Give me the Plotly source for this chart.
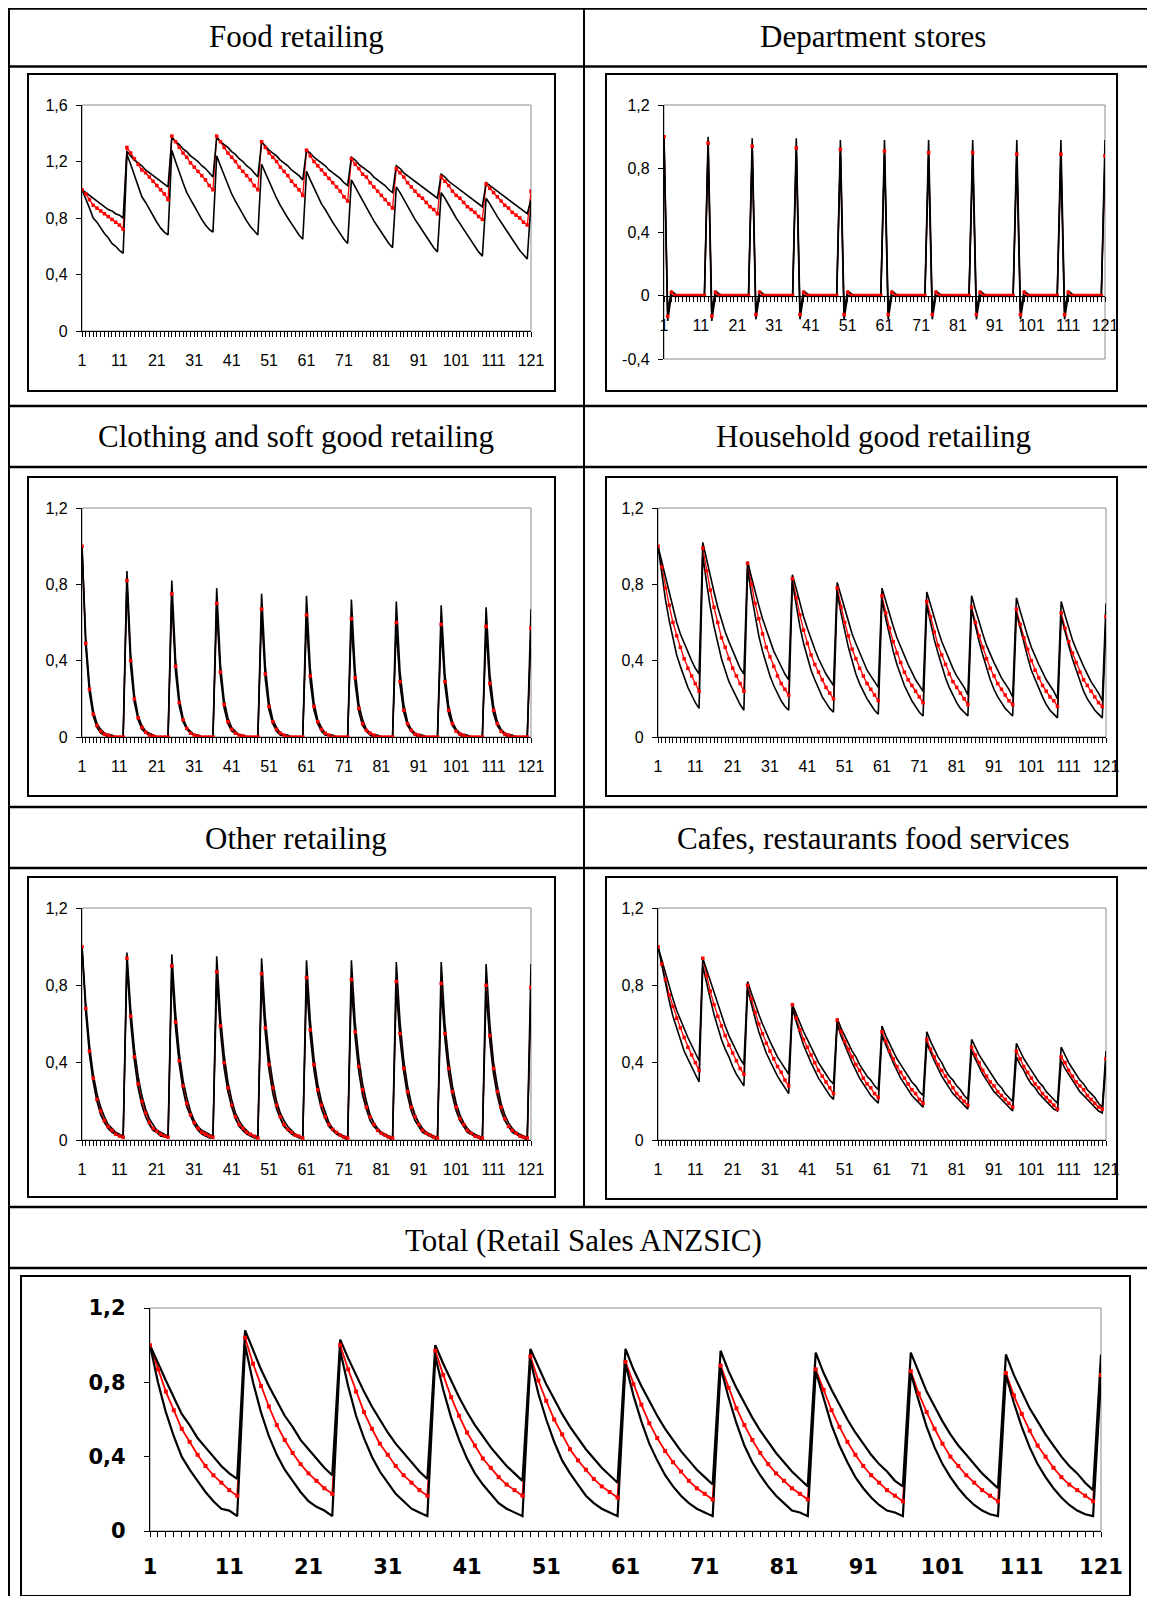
import plotly.graph_objects as go

# ---------------- data ----------------
PERIODS = list(range(1, 122))
X_TICKS = [1, 11, 21, 31, 41, 51, 61, 71, 81, 91, 101, 111, 121]
X_LABELS = ["1", "11", "21", "31", "41", "51", "61", "71", "81", "91", "101", "111", "121"]
Y_TICKS_A = [0, 0.4, 0.8, 1.2, 1.6]
Y_LABELS_A = ["0", "0,4", "0,8", "1,2", "1,6"]
Y_TICKS_B = [-0.4, 0, 0.4, 0.8, 1.2]
Y_LABELS_B = ["-0,4", "0", "0,4", "0,8", "1,2"]
Y_TICKS_C = [0, 0.4, 0.8, 1.2]
Y_LABELS_C = ["0", "0,4", "0,8", "1,2"]

TITLES = ["Food retailing", "Department stores", "Clothing and soft good retailing",
          "Household good retailing", "Other retailing", "Cafes, restaurants food services",
          "Total (Retail Sales ANZSIC)"]

FOOD_IRF = [
    1.00, 0.97, 0.93, 0.89, 0.87, 0.85, 0.83, 0.81, 0.79, 0.77, 0.75, 0.72,
    1.30, 1.26, 1.22, 1.18, 1.14, 1.12, 1.09, 1.06, 1.03, 1.00, 0.97, 0.93,
    1.38, 1.34, 1.30, 1.26, 1.23, 1.19, 1.16, 1.13, 1.10, 1.07, 1.03, 1.00,
    1.38, 1.34, 1.30, 1.26, 1.23, 1.20, 1.16, 1.13, 1.10, 1.07, 1.03, 1.00,
    1.34, 1.30, 1.26, 1.23, 1.20, 1.16, 1.13, 1.10, 1.06, 1.03, 1.00, 0.96,
    1.28, 1.24, 1.20, 1.17, 1.14, 1.11, 1.08, 1.05, 1.02, 0.99, 0.95, 0.92,
    1.22, 1.18, 1.15, 1.11, 1.09, 1.05, 1.02, 0.99, 0.96, 0.93, 0.90, 0.87,
    1.15, 1.12, 1.09, 1.05, 1.02, 0.99, 0.96, 0.94, 0.91, 0.88, 0.86, 0.83,
    1.09, 1.06, 1.03, 0.99, 0.96, 0.94, 0.91, 0.88, 0.86, 0.84, 0.81, 0.79,
    1.04, 1.01, 0.98, 0.95, 0.92, 0.89, 0.87, 0.84, 0.82, 0.80, 0.77, 0.75,
    0.99,
]
FOOD_UP = [
    1.00, 0.98, 0.96, 0.94, 0.92, 0.90, 0.88, 0.86, 0.85, 0.83, 0.82, 0.80,
    1.27, 1.24, 1.21, 1.19, 1.17, 1.14, 1.12, 1.10, 1.08, 1.06, 1.04, 1.02,
    1.37, 1.34, 1.32, 1.29, 1.27, 1.24, 1.22, 1.20, 1.17, 1.15, 1.12, 1.09,
    1.37, 1.34, 1.32, 1.30, 1.27, 1.25, 1.22, 1.20, 1.17, 1.15, 1.12, 1.09,
    1.34, 1.31, 1.28, 1.26, 1.24, 1.21, 1.19, 1.17, 1.14, 1.12, 1.10, 1.07,
    1.28, 1.26, 1.23, 1.21, 1.19, 1.17, 1.14, 1.12, 1.10, 1.08, 1.05, 1.03,
    1.23, 1.21, 1.18, 1.16, 1.14, 1.12, 1.09, 1.07, 1.05, 1.03, 1.00, 0.98,
    1.17, 1.15, 1.12, 1.10, 1.08, 1.06, 1.04, 1.02, 1.00, 0.98, 0.96, 0.94,
    1.11, 1.09, 1.06, 1.04, 1.02, 1.00, 0.98, 0.96, 0.94, 0.92, 0.90, 0.88,
    1.05, 1.03, 1.01, 0.99, 0.97, 0.95, 0.93, 0.91, 0.89, 0.87, 0.85, 0.83,
    0.93,
]
FOOD_LO = [
    1.00, 0.94, 0.87, 0.80, 0.77, 0.73, 0.69, 0.66, 0.62, 0.60, 0.57, 0.55,
    1.25, 1.18, 1.10, 1.03, 0.95, 0.91, 0.86, 0.81, 0.77, 0.73, 0.70, 0.68,
    1.28, 1.20, 1.12, 1.05, 0.98, 0.93, 0.88, 0.83, 0.79, 0.75, 0.72, 0.70,
    1.24, 1.17, 1.10, 1.03, 0.97, 0.92, 0.87, 0.82, 0.78, 0.74, 0.71, 0.68,
    1.18, 1.12, 1.05, 0.99, 0.94, 0.89, 0.84, 0.80, 0.76, 0.72, 0.68, 0.65,
    1.13, 1.07, 1.01, 0.96, 0.90, 0.86, 0.81, 0.77, 0.73, 0.69, 0.65, 0.62,
    1.07, 1.02, 0.97, 0.92, 0.87, 0.82, 0.78, 0.74, 0.70, 0.66, 0.62, 0.59,
    1.02, 0.98, 0.93, 0.88, 0.83, 0.79, 0.75, 0.71, 0.67, 0.63, 0.59, 0.56,
    0.98, 0.94, 0.89, 0.84, 0.80, 0.76, 0.72, 0.68, 0.64, 0.60, 0.56, 0.53,
    0.94, 0.90, 0.85, 0.81, 0.77, 0.73, 0.69, 0.65, 0.61, 0.57, 0.54, 0.51,
    0.91,
]

DEPT_IRF = [
    1.00, -0.13, 0.02, 0.00, 0.00, 0.00, 0.00, 0.00, 0.00, 0.00, 0.00, 0.00,
    0.96, -0.13, 0.02, 0.00, 0.00, 0.00, 0.00, 0.00, 0.00, 0.00, 0.00, 0.00,
    0.94, -0.12, 0.02, 0.00, 0.00, 0.00, 0.00, 0.00, 0.00, 0.00, 0.00, 0.00,
    0.93, -0.12, 0.02, 0.00, 0.00, 0.00, 0.00, 0.00, 0.00, 0.00, 0.00, 0.00,
    0.92, -0.12, 0.02, 0.00, 0.00, 0.00, 0.00, 0.00, 0.00, 0.00, 0.00, 0.00,
    0.91, -0.12, 0.02, 0.00, 0.00, 0.00, 0.00, 0.00, 0.00, 0.00, 0.00, 0.00,
    0.90, -0.12, 0.02, 0.00, 0.00, 0.00, 0.00, 0.00, 0.00, 0.00, 0.00, 0.00,
    0.90, -0.12, 0.02, 0.00, 0.00, 0.00, 0.00, 0.00, 0.00, 0.00, 0.00, 0.00,
    0.89, -0.12, 0.02, 0.00, 0.00, 0.00, 0.00, 0.00, 0.00, 0.00, 0.00, 0.00,
    0.89, -0.12, 0.02, 0.00, 0.00, 0.00, 0.00, 0.00, 0.00, 0.00, 0.00, 0.00,
    0.88,
]
DEPT_UP = [
    1.00, -0.10, 0.03, 0.01, 0.00, 0.00, 0.00, 0.00, 0.00, 0.00, 0.00, 0.00,
    1.00, -0.10, 0.03, 0.01, 0.00, 0.00, 0.00, 0.00, 0.00, 0.00, 0.00, 0.00,
    0.99, -0.10, 0.03, 0.01, 0.00, 0.00, 0.00, 0.00, 0.00, 0.00, 0.00, 0.00,
    0.99, -0.10, 0.03, 0.01, 0.00, 0.00, 0.00, 0.00, 0.00, 0.00, 0.00, 0.00,
    0.98, -0.10, 0.03, 0.01, 0.00, 0.00, 0.00, 0.00, 0.00, 0.00, 0.00, 0.00,
    0.98, -0.10, 0.03, 0.01, 0.00, 0.00, 0.00, 0.00, 0.00, 0.00, 0.00, 0.00,
    0.98, -0.10, 0.03, 0.01, 0.00, 0.00, 0.00, 0.00, 0.00, 0.00, 0.00, 0.00,
    0.98, -0.10, 0.03, 0.01, 0.00, 0.00, 0.00, 0.00, 0.00, 0.00, 0.00, 0.00,
    0.98, -0.10, 0.03, 0.01, 0.00, 0.00, 0.00, 0.00, 0.00, 0.00, 0.00, 0.00,
    0.98, -0.10, 0.03, 0.01, 0.00, 0.00, 0.00, 0.00, 0.00, 0.00, 0.00, 0.00,
    0.98,
]
DEPT_LO = [
    1.00, -0.16, 0.00, 0.00, 0.00, 0.00, 0.00, 0.00, 0.00, 0.00, 0.00, 0.00,
    0.93, -0.16, 0.00, 0.00, 0.00, 0.00, 0.00, 0.00, 0.00, 0.00, 0.00, 0.00,
    0.91, -0.15, 0.00, 0.00, 0.00, 0.00, 0.00, 0.00, 0.00, 0.00, 0.00, 0.00,
    0.90, -0.15, 0.00, 0.00, 0.00, 0.00, 0.00, 0.00, 0.00, 0.00, 0.00, 0.00,
    0.89, -0.15, 0.00, 0.00, 0.00, 0.00, 0.00, 0.00, 0.00, 0.00, 0.00, 0.00,
    0.88, -0.15, 0.00, 0.00, 0.00, 0.00, 0.00, 0.00, 0.00, 0.00, 0.00, 0.00,
    0.87, -0.15, 0.00, 0.00, 0.00, 0.00, 0.00, 0.00, 0.00, 0.00, 0.00, 0.00,
    0.87, -0.15, 0.00, 0.00, 0.00, 0.00, 0.00, 0.00, 0.00, 0.00, 0.00, 0.00,
    0.86, -0.15, 0.00, 0.00, 0.00, 0.00, 0.00, 0.00, 0.00, 0.00, 0.00, 0.00,
    0.86, -0.15, 0.00, 0.00, 0.00, 0.00, 0.00, 0.00, 0.00, 0.00, 0.00, 0.00,
    0.85,
]

CLOTH_IRF = [
    1.00, 0.49, 0.25, 0.12, 0.06, 0.03, 0.015, 0.01, 0.00, 0.00, 0.00, 0.00,
    0.82, 0.40, 0.20, 0.10, 0.05, 0.025, 0.01, 0.005, 0.00, 0.00, 0.00, 0.00,
    0.75, 0.37, 0.18, 0.09, 0.045, 0.02, 0.01, 0.005, 0.00, 0.00, 0.00, 0.00,
    0.70, 0.34, 0.17, 0.08, 0.04, 0.02, 0.01, 0.005, 0.00, 0.00, 0.00, 0.00,
    0.67, 0.33, 0.16, 0.08, 0.04, 0.02, 0.01, 0.00, 0.00, 0.00, 0.00, 0.00,
    0.64, 0.32, 0.16, 0.08, 0.04, 0.02, 0.01, 0.00, 0.00, 0.00, 0.00, 0.00,
    0.62, 0.31, 0.15, 0.07, 0.035, 0.02, 0.01, 0.00, 0.00, 0.00, 0.00, 0.00,
    0.60, 0.29, 0.14, 0.07, 0.035, 0.015, 0.01, 0.00, 0.00, 0.00, 0.00, 0.00,
    0.59, 0.29, 0.14, 0.07, 0.03, 0.015, 0.01, 0.00, 0.00, 0.00, 0.00, 0.00,
    0.58, 0.28, 0.14, 0.07, 0.03, 0.015, 0.01, 0.00, 0.00, 0.00, 0.00, 0.00,
    0.57,
]
CLOTH_UP = [
    1.00, 0.52, 0.27, 0.14, 0.07, 0.04, 0.02, 0.01, 0.01, 0.00, 0.00, 0.00,
    0.87, 0.44, 0.22, 0.11, 0.06, 0.03, 0.02, 0.01, 0.00, 0.00, 0.00, 0.00,
    0.82, 0.41, 0.20, 0.10, 0.05, 0.03, 0.01, 0.01, 0.00, 0.00, 0.00, 0.00,
    0.78, 0.38, 0.19, 0.10, 0.05, 0.03, 0.01, 0.01, 0.00, 0.00, 0.00, 0.00,
    0.75, 0.37, 0.18, 0.09, 0.05, 0.02, 0.01, 0.01, 0.00, 0.00, 0.00, 0.00,
    0.74, 0.36, 0.18, 0.09, 0.05, 0.02, 0.01, 0.01, 0.00, 0.00, 0.00, 0.00,
    0.72, 0.35, 0.17, 0.09, 0.04, 0.02, 0.01, 0.01, 0.00, 0.00, 0.00, 0.00,
    0.71, 0.34, 0.17, 0.08, 0.04, 0.02, 0.01, 0.01, 0.00, 0.00, 0.00, 0.00,
    0.69, 0.33, 0.16, 0.08, 0.04, 0.02, 0.01, 0.01, 0.00, 0.00, 0.00, 0.00,
    0.68, 0.33, 0.16, 0.08, 0.04, 0.02, 0.01, 0.01, 0.00, 0.00, 0.00, 0.00,
    0.67,
]
CLOTH_LO = [
    1.00, 0.47, 0.23, 0.11, 0.05, 0.02, 0.01, 0.00, 0.00, 0.00, 0.00, 0.00,
    0.80, 0.37, 0.18, 0.09, 0.04, 0.02, 0.01, 0.00, 0.00, 0.00, 0.00, 0.00,
    0.73, 0.34, 0.16, 0.08, 0.04, 0.02, 0.01, 0.00, 0.00, 0.00, 0.00, 0.00,
    0.68, 0.32, 0.15, 0.07, 0.03, 0.02, 0.01, 0.00, 0.00, 0.00, 0.00, 0.00,
    0.65, 0.30, 0.14, 0.07, 0.03, 0.01, 0.01, 0.00, 0.00, 0.00, 0.00, 0.00,
    0.62, 0.29, 0.14, 0.07, 0.03, 0.01, 0.01, 0.00, 0.00, 0.00, 0.00, 0.00,
    0.60, 0.28, 0.13, 0.06, 0.03, 0.01, 0.00, 0.00, 0.00, 0.00, 0.00, 0.00,
    0.58, 0.27, 0.13, 0.06, 0.03, 0.01, 0.00, 0.00, 0.00, 0.00, 0.00, 0.00,
    0.57, 0.27, 0.12, 0.06, 0.03, 0.01, 0.00, 0.00, 0.00, 0.00, 0.00, 0.00,
    0.56, 0.26, 0.12, 0.06, 0.03, 0.01, 0.00, 0.00, 0.00, 0.00, 0.00, 0.00,
    0.55,
]

HOUSE_IRF = [
    1.00, 0.89, 0.78, 0.69, 0.60, 0.53, 0.47, 0.41, 0.36, 0.32, 0.28, 0.24,
    0.99, 0.87, 0.77, 0.68, 0.60, 0.52, 0.47, 0.41, 0.36, 0.32, 0.28, 0.24,
    0.91, 0.80, 0.70, 0.62, 0.54, 0.47, 0.42, 0.37, 0.32, 0.28, 0.25, 0.22,
    0.83, 0.73, 0.64, 0.56, 0.49, 0.43, 0.38, 0.34, 0.30, 0.26, 0.23, 0.20,
    0.78, 0.68, 0.60, 0.53, 0.46, 0.41, 0.36, 0.32, 0.28, 0.25, 0.22, 0.19,
    0.74, 0.65, 0.57, 0.50, 0.44, 0.39, 0.34, 0.30, 0.27, 0.24, 0.21, 0.18,
    0.71, 0.63, 0.55, 0.48, 0.43, 0.38, 0.33, 0.29, 0.26, 0.23, 0.20, 0.17,
    0.68, 0.60, 0.53, 0.47, 0.41, 0.36, 0.32, 0.28, 0.25, 0.22, 0.19, 0.17,
    0.67, 0.59, 0.52, 0.46, 0.40, 0.35, 0.31, 0.27, 0.24, 0.21, 0.19, 0.16,
    0.65, 0.57, 0.50, 0.44, 0.39, 0.34, 0.30, 0.27, 0.24, 0.21, 0.18, 0.16,
    0.63,
]
HOUSE_UP = [
    1.00, 0.92, 0.83, 0.75, 0.67, 0.60, 0.54, 0.49, 0.44, 0.40, 0.36, 0.33,
    1.02, 0.93, 0.84, 0.76, 0.68, 0.61, 0.55, 0.50, 0.45, 0.40, 0.36, 0.33,
    0.92, 0.84, 0.76, 0.69, 0.62, 0.56, 0.50, 0.45, 0.41, 0.37, 0.33, 0.30,
    0.85, 0.78, 0.70, 0.63, 0.57, 0.51, 0.46, 0.41, 0.37, 0.33, 0.30, 0.27,
    0.81, 0.74, 0.67, 0.60, 0.54, 0.49, 0.44, 0.39, 0.35, 0.32, 0.29, 0.26,
    0.78, 0.71, 0.64, 0.58, 0.52, 0.47, 0.42, 0.38, 0.34, 0.30, 0.27, 0.24,
    0.76, 0.69, 0.62, 0.56, 0.50, 0.45, 0.40, 0.36, 0.32, 0.29, 0.26, 0.22,
    0.74, 0.67, 0.60, 0.54, 0.48, 0.43, 0.39, 0.35, 0.31, 0.28, 0.25, 0.21,
    0.73, 0.66, 0.59, 0.53, 0.47, 0.42, 0.38, 0.34, 0.30, 0.27, 0.24, 0.20,
    0.71, 0.64, 0.57, 0.51, 0.46, 0.41, 0.37, 0.33, 0.29, 0.26, 0.23, 0.19,
    0.70,
]
HOUSE_LO = [
    1.00, 0.85, 0.72, 0.61, 0.51, 0.43, 0.37, 0.31, 0.26, 0.22, 0.18, 0.15,
    0.95, 0.81, 0.68, 0.58, 0.49, 0.41, 0.35, 0.29, 0.25, 0.21, 0.17, 0.14,
    0.88, 0.75, 0.63, 0.53, 0.45, 0.38, 0.32, 0.27, 0.23, 0.19, 0.16, 0.14,
    0.81, 0.69, 0.58, 0.49, 0.42, 0.35, 0.30, 0.25, 0.21, 0.18, 0.15, 0.13,
    0.76, 0.65, 0.55, 0.47, 0.40, 0.33, 0.28, 0.24, 0.20, 0.17, 0.14, 0.12,
    0.72, 0.62, 0.53, 0.45, 0.38, 0.32, 0.27, 0.23, 0.19, 0.16, 0.13, 0.11,
    0.69, 0.60, 0.51, 0.44, 0.37, 0.31, 0.26, 0.22, 0.18, 0.15, 0.13, 0.11,
    0.67, 0.58, 0.50, 0.43, 0.36, 0.30, 0.25, 0.21, 0.18, 0.15, 0.13, 0.11,
    0.65, 0.57, 0.49, 0.42, 0.35, 0.30, 0.25, 0.21, 0.17, 0.14, 0.12, 0.10,
    0.63, 0.55, 0.48, 0.41, 0.35, 0.29, 0.24, 0.20, 0.17, 0.14, 0.12, 0.10,
    0.61,
]

OTHER_IRF = [
    1.00, 0.68, 0.46, 0.32, 0.21, 0.15, 0.10, 0.07, 0.05, 0.03, 0.02, 0.015,
    0.94, 0.64, 0.43, 0.29, 0.20, 0.14, 0.09, 0.06, 0.045, 0.03, 0.02, 0.015,
    0.90, 0.61, 0.41, 0.28, 0.19, 0.13, 0.09, 0.06, 0.04, 0.03, 0.02, 0.015,
    0.87, 0.59, 0.40, 0.27, 0.18, 0.12, 0.08, 0.06, 0.04, 0.03, 0.02, 0.01,
    0.86, 0.58, 0.39, 0.27, 0.18, 0.12, 0.08, 0.055, 0.04, 0.025, 0.02, 0.01,
    0.84, 0.57, 0.39, 0.26, 0.18, 0.12, 0.08, 0.055, 0.04, 0.025, 0.015, 0.01,
    0.83, 0.56, 0.38, 0.26, 0.17, 0.12, 0.08, 0.05, 0.035, 0.025, 0.015, 0.01,
    0.82, 0.55, 0.37, 0.25, 0.17, 0.12, 0.08, 0.05, 0.035, 0.025, 0.015, 0.01,
    0.81, 0.55, 0.37, 0.25, 0.17, 0.11, 0.08, 0.05, 0.035, 0.02, 0.015, 0.01,
    0.80, 0.54, 0.37, 0.25, 0.17, 0.11, 0.07, 0.05, 0.035, 0.02, 0.015, 0.01,
    0.79,
]
OTHER_UP = [
    1.00, 0.71, 0.49, 0.34, 0.24, 0.17, 0.12, 0.08, 0.06, 0.04, 0.03, 0.02,
    0.97, 0.68, 0.47, 0.33, 0.23, 0.16, 0.11, 0.08, 0.05, 0.04, 0.03, 0.02,
    0.96, 0.66, 0.45, 0.31, 0.22, 0.15, 0.10, 0.07, 0.05, 0.04, 0.03, 0.02,
    0.95, 0.64, 0.44, 0.30, 0.21, 0.14, 0.10, 0.07, 0.05, 0.03, 0.02, 0.02,
    0.94, 0.63, 0.43, 0.30, 0.20, 0.14, 0.10, 0.07, 0.05, 0.03, 0.02, 0.01,
    0.93, 0.62, 0.42, 0.29, 0.20, 0.14, 0.09, 0.06, 0.04, 0.03, 0.02, 0.01,
    0.93, 0.61, 0.42, 0.29, 0.20, 0.13, 0.09, 0.06, 0.04, 0.03, 0.02, 0.01,
    0.92, 0.61, 0.41, 0.28, 0.19, 0.13, 0.09, 0.06, 0.04, 0.03, 0.02, 0.01,
    0.92, 0.60, 0.41, 0.28, 0.19, 0.13, 0.09, 0.06, 0.04, 0.03, 0.02, 0.01,
    0.91, 0.60, 0.40, 0.28, 0.19, 0.13, 0.09, 0.06, 0.04, 0.03, 0.02, 0.01,
    0.91,
]
OTHER_LO = [
    1.00, 0.66, 0.44, 0.30, 0.20, 0.13, 0.09, 0.06, 0.04, 0.03, 0.02, 0.01,
    0.91, 0.61, 0.41, 0.27, 0.18, 0.12, 0.08, 0.05, 0.04, 0.02, 0.02, 0.01,
    0.87, 0.58, 0.39, 0.26, 0.17, 0.12, 0.08, 0.05, 0.03, 0.02, 0.01, 0.01,
    0.84, 0.56, 0.37, 0.25, 0.17, 0.11, 0.07, 0.05, 0.03, 0.02, 0.01, 0.01,
    0.82, 0.55, 0.36, 0.24, 0.16, 0.11, 0.07, 0.05, 0.03, 0.02, 0.01, 0.01,
    0.81, 0.54, 0.36, 0.24, 0.16, 0.11, 0.07, 0.05, 0.03, 0.02, 0.01, 0.00,
    0.80, 0.53, 0.35, 0.23, 0.16, 0.10, 0.07, 0.05, 0.03, 0.02, 0.01, 0.00,
    0.79, 0.52, 0.35, 0.23, 0.15, 0.10, 0.07, 0.04, 0.03, 0.02, 0.01, 0.00,
    0.78, 0.52, 0.34, 0.23, 0.15, 0.10, 0.07, 0.04, 0.03, 0.02, 0.01, 0.00,
    0.77, 0.51, 0.34, 0.23, 0.15, 0.10, 0.07, 0.04, 0.03, 0.02, 0.01, 0.00,
    0.76,
]

CAFE_IRF = [
    1.00, 0.91, 0.83, 0.75, 0.69, 0.63, 0.58, 0.53, 0.48, 0.44, 0.40, 0.36,
    0.94, 0.85, 0.77, 0.70, 0.64, 0.59, 0.54, 0.49, 0.45, 0.41, 0.37, 0.34,
    0.80, 0.73, 0.66, 0.60, 0.55, 0.50, 0.46, 0.42, 0.38, 0.35, 0.31, 0.28,
    0.70, 0.63, 0.57, 0.52, 0.48, 0.44, 0.40, 0.36, 0.33, 0.30, 0.27, 0.24,
    0.62, 0.56, 0.51, 0.47, 0.43, 0.39, 0.36, 0.32, 0.29, 0.27, 0.24, 0.22,
    0.56, 0.51, 0.46, 0.42, 0.38, 0.35, 0.32, 0.29, 0.26, 0.24, 0.21, 0.19,
    0.52, 0.47, 0.43, 0.39, 0.36, 0.33, 0.30, 0.27, 0.24, 0.22, 0.20, 0.18,
    0.48, 0.44, 0.40, 0.36, 0.33, 0.30, 0.28, 0.25, 0.23, 0.21, 0.19, 0.17,
    0.46, 0.42, 0.38, 0.35, 0.32, 0.29, 0.27, 0.24, 0.22, 0.20, 0.18, 0.16,
    0.43, 0.40, 0.36, 0.33, 0.30, 0.28, 0.26, 0.23, 0.21, 0.19, 0.17, 0.16,
    0.42,
]
CAFE_UP = [
    1.00, 0.93, 0.86, 0.79, 0.73, 0.67, 0.62, 0.57, 0.53, 0.49, 0.45, 0.41,
    0.94, 0.88, 0.82, 0.76, 0.70, 0.64, 0.59, 0.54, 0.50, 0.46, 0.42, 0.39,
    0.82, 0.76, 0.70, 0.65, 0.60, 0.55, 0.51, 0.47, 0.43, 0.40, 0.37, 0.34,
    0.70, 0.65, 0.60, 0.56, 0.52, 0.48, 0.44, 0.40, 0.37, 0.34, 0.31, 0.29,
    0.63, 0.58, 0.54, 0.50, 0.46, 0.43, 0.39, 0.36, 0.33, 0.31, 0.28, 0.26,
    0.59, 0.54, 0.50, 0.46, 0.42, 0.39, 0.36, 0.33, 0.30, 0.28, 0.25, 0.23,
    0.56, 0.51, 0.47, 0.43, 0.40, 0.36, 0.33, 0.31, 0.28, 0.26, 0.23, 0.21,
    0.52, 0.48, 0.44, 0.41, 0.38, 0.35, 0.32, 0.29, 0.27, 0.24, 0.22, 0.20,
    0.50, 0.46, 0.42, 0.39, 0.36, 0.33, 0.30, 0.28, 0.25, 0.23, 0.21, 0.19,
    0.48, 0.44, 0.40, 0.37, 0.34, 0.31, 0.29, 0.26, 0.24, 0.22, 0.19, 0.17,
    0.46,
]
CAFE_LO = [
    1.00, 0.90, 0.80, 0.72, 0.64, 0.58, 0.52, 0.46, 0.42, 0.38, 0.34, 0.30,
    0.90, 0.81, 0.73, 0.65, 0.58, 0.52, 0.47, 0.43, 0.38, 0.34, 0.31, 0.28,
    0.78, 0.70, 0.63, 0.56, 0.50, 0.45, 0.41, 0.37, 0.33, 0.30, 0.27, 0.24,
    0.68, 0.61, 0.55, 0.49, 0.44, 0.40, 0.36, 0.32, 0.29, 0.26, 0.23, 0.21,
    0.60, 0.54, 0.49, 0.44, 0.40, 0.36, 0.32, 0.29, 0.26, 0.23, 0.21, 0.19,
    0.54, 0.49, 0.44, 0.40, 0.36, 0.32, 0.29, 0.26, 0.23, 0.21, 0.19, 0.17,
    0.50, 0.45, 0.41, 0.37, 0.33, 0.30, 0.27, 0.24, 0.22, 0.20, 0.18, 0.16,
    0.46, 0.42, 0.38, 0.34, 0.31, 0.28, 0.25, 0.23, 0.21, 0.19, 0.17, 0.15,
    0.43, 0.39, 0.36, 0.32, 0.29, 0.27, 0.24, 0.22, 0.20, 0.18, 0.16, 0.15,
    0.41, 0.37, 0.34, 0.31, 0.28, 0.25, 0.23, 0.21, 0.19, 0.17, 0.15, 0.14,
    0.40,
]

TOTAL_IRF = [
    1.00, 0.87, 0.75, 0.65, 0.55, 0.48, 0.41, 0.35, 0.30, 0.26, 0.22, 0.19,
    1.04, 0.90, 0.78, 0.67, 0.57, 0.49, 0.42, 0.36, 0.31, 0.27, 0.23, 0.20,
    1.00, 0.87, 0.75, 0.64, 0.55, 0.47, 0.41, 0.35, 0.30, 0.26, 0.22, 0.19,
    0.97, 0.84, 0.72, 0.62, 0.53, 0.46, 0.39, 0.34, 0.29, 0.25, 0.22, 0.19,
    0.94, 0.81, 0.70, 0.60, 0.52, 0.44, 0.38, 0.33, 0.28, 0.24, 0.21, 0.18,
    0.91, 0.79, 0.68, 0.58, 0.50, 0.43, 0.37, 0.32, 0.27, 0.23, 0.20, 0.17,
    0.89, 0.77, 0.66, 0.57, 0.49, 0.42, 0.36, 0.31, 0.27, 0.23, 0.20, 0.17,
    0.87, 0.76, 0.65, 0.56, 0.48, 0.41, 0.35, 0.30, 0.26, 0.22, 0.19, 0.16,
    0.86, 0.74, 0.64, 0.55, 0.47, 0.40, 0.35, 0.30, 0.26, 0.22, 0.19, 0.16,
    0.85, 0.73, 0.63, 0.54, 0.46, 0.40, 0.34, 0.29, 0.25, 0.22, 0.19, 0.16,
    0.84,
]
TOTAL_UP = [
    1.00, 0.90, 0.81, 0.72, 0.63, 0.57, 0.50, 0.45, 0.40, 0.35, 0.31, 0.28,
    1.08, 0.97, 0.87, 0.78, 0.70, 0.62, 0.56, 0.49, 0.44, 0.39, 0.34, 0.30,
    1.03, 0.93, 0.84, 0.75, 0.67, 0.60, 0.53, 0.47, 0.42, 0.37, 0.32, 0.28,
    1.00, 0.90, 0.81, 0.72, 0.64, 0.57, 0.51, 0.45, 0.40, 0.35, 0.31, 0.27,
    0.98, 0.88, 0.79, 0.71, 0.63, 0.56, 0.50, 0.44, 0.39, 0.34, 0.30, 0.26,
    0.98, 0.87, 0.78, 0.70, 0.62, 0.55, 0.49, 0.43, 0.38, 0.33, 0.29, 0.25,
    0.97, 0.86, 0.77, 0.69, 0.61, 0.54, 0.48, 0.42, 0.37, 0.32, 0.28, 0.24,
    0.96, 0.85, 0.76, 0.68, 0.60, 0.53, 0.47, 0.41, 0.36, 0.32, 0.27, 0.24,
    0.96, 0.85, 0.75, 0.67, 0.59, 0.52, 0.46, 0.41, 0.36, 0.31, 0.27, 0.23,
    0.95, 0.84, 0.75, 0.66, 0.59, 0.52, 0.46, 0.40, 0.35, 0.31, 0.26, 0.22,
    0.95,
]
TOTAL_LO = [
    1.00, 0.80, 0.64, 0.51, 0.40, 0.33, 0.27, 0.21, 0.16, 0.12, 0.11, 0.08,
    1.00, 0.80, 0.64, 0.51, 0.41, 0.33, 0.27, 0.21, 0.16, 0.13, 0.11, 0.08,
    0.97, 0.78, 0.62, 0.50, 0.40, 0.32, 0.26, 0.20, 0.16, 0.12, 0.10, 0.08,
    0.94, 0.76, 0.61, 0.49, 0.39, 0.31, 0.25, 0.20, 0.15, 0.12, 0.10, 0.08,
    0.92, 0.74, 0.60, 0.48, 0.38, 0.31, 0.25, 0.19, 0.15, 0.12, 0.10, 0.08,
    0.90, 0.73, 0.59, 0.47, 0.38, 0.30, 0.24, 0.19, 0.15, 0.12, 0.10, 0.08,
    0.88, 0.72, 0.58, 0.46, 0.37, 0.30, 0.24, 0.19, 0.15, 0.11, 0.10, 0.08,
    0.86, 0.71, 0.57, 0.46, 0.37, 0.29, 0.23, 0.18, 0.14, 0.11, 0.10, 0.08,
    0.85, 0.70, 0.56, 0.45, 0.36, 0.29, 0.23, 0.18, 0.14, 0.11, 0.09, 0.08,
    0.84, 0.69, 0.56, 0.45, 0.36, 0.29, 0.23, 0.18, 0.14, 0.11, 0.09, 0.08,
    0.83,
]

# ---------------- layout (page pixel coordinates) ----------------
W, H = 1139, 1588      # figure size; the page body adds an 8px margin
OFF = 8


def fx(x):
    return (x - OFF) / W


def fy(y):
    return 1 - (y - OFF) / H


PANELS = [
    dict(irf=FOOD_IRF, up=FOOD_UP, lo=FOOD_LO, plot=(82, 531, 105, 331), yr=(0, 1.6),
         ytv=Y_TICKS_A, ytt=Y_LABELS_A, box=(28, 555, 74, 391), fs=16, zero=None),
    dict(irf=DEPT_IRF, up=DEPT_UP, lo=DEPT_LO, plot=(664, 1105, 105, 359), yr=(-0.4, 1.2),
         ytv=Y_TICKS_B, ytt=Y_LABELS_B, box=(606, 1117, 74, 391), fs=16, zero=0.25),
    dict(irf=CLOTH_IRF, up=CLOTH_UP, lo=CLOTH_LO, plot=(82, 531, 508, 737), yr=(0, 1.2),
         ytv=Y_TICKS_C, ytt=Y_LABELS_C, box=(28, 555, 477, 796), fs=16, zero=None),
    dict(irf=HOUSE_IRF, up=HOUSE_UP, lo=HOUSE_LO, plot=(658, 1106, 508, 737), yr=(0, 1.2),
         ytv=Y_TICKS_C, ytt=Y_LABELS_C, box=(606, 1117, 477, 796), fs=16, zero=None),
    dict(irf=OTHER_IRF, up=OTHER_UP, lo=OTHER_LO, plot=(82, 531, 908, 1140), yr=(0, 1.2),
         ytv=Y_TICKS_C, ytt=Y_LABELS_C, box=(28, 555, 877, 1197), fs=16, zero=None),
    dict(irf=CAFE_IRF, up=CAFE_UP, lo=CAFE_LO, plot=(658, 1106, 908, 1140), yr=(0, 1.2),
         ytv=Y_TICKS_C, ytt=Y_LABELS_C, box=(606, 1117, 877, 1199), fs=16, zero=None),
    dict(irf=TOTAL_IRF, up=TOTAL_UP, lo=TOTAL_LO, plot=(150, 1101, 1308, 1531), yr=(0, 1.2),
         ytv=Y_TICKS_C, ytt=Y_LABELS_C, box=(21, 1130, 1276, 1596), fs=21, zero=None),
]

fig = go.Figure()
shapes = []
layout = {}

for i, p in enumerate(PANELS):
    n = i + 1
    xa = "x" if n == 1 else f"x{n}"
    ya = "y" if n == 1 else f"y{n}"
    big = p["fs"] > 18
    lw_b = 2.2 if big else 1.6
    lw_r = 1.8 if big else 1.3
    # red line first, black bounds on top, red point markers last
    fig.add_trace(go.Scatter(x=PERIODS, y=p["irf"], mode="lines",
                             line=dict(color="#ff0000", width=lw_r),
                             xaxis=xa, yaxis=ya, showlegend=False, hoverinfo="skip"))
    for key in ("up", "lo"):
        fig.add_trace(go.Scatter(x=PERIODS, y=p[key], mode="lines",
                                 line=dict(color="black", width=lw_b),
                                 xaxis=xa, yaxis=ya, showlegend=False, hoverinfo="skip"))
    fig.add_trace(go.Scatter(x=PERIODS, y=p["irf"], mode="markers",
                             marker=dict(color="#ff0000", symbol="square", size=4 if big else 3.5,
                                         line=dict(width=0)),
                             xaxis=xa, yaxis=ya, showlegend=False, hoverinfo="skip"))
    L, R, T, B = p["plot"]
    ydom = [fy(B), fy(T)]
    xdom = [fx(L), fx(R)]
    if big:
        tickfont = dict(family="DejaVu Sans", size=p["fs"], color="black", weight="bold")
    else:
        tickfont = dict(family="Liberation Sans, Arial", size=p["fs"], color="black")
    xkey = "xaxis" if n == 1 else f"xaxis{n}"
    ykey = "yaxis" if n == 1 else f"yaxis{n}"
    xcfg = dict(domain=xdom, range=[1, 121], tickmode="array", tickvals=X_TICKS, ticktext=X_LABELS,
                ticks="outside", ticklen=5, tickwidth=1, tickcolor="black", tickangle=0,
                showline=True, linecolor="black", linewidth=1.3, showgrid=False, zeroline=False,
                automargin=False, tickfont=tickfont, ticklabelstandoff=12 if big else 10,
                minor=dict(tickmode="linear", tick0=1, dtick=1, ticks="outside", ticklen=5,
                           tickwidth=1, tickcolor="black", showgrid=False))
    if p["zero"] is not None:
        xcfg.update(anchor="free", position=ydom[0] + p["zero"] * (ydom[1] - ydom[0]))
    else:
        xcfg.update(anchor=ya)
    ycfg = dict(domain=ydom, range=list(p["yr"]), tickmode="array", tickvals=p["ytv"],
                ticktext=p["ytt"], ticks="outside", ticklen=5, tickwidth=1, tickcolor="black",
                showline=True, linecolor="black", linewidth=1.3, showgrid=False, zeroline=False,
                automargin=False, tickfont=tickfont, anchor=xa, ticklabelstandoff=14 if big else 5)
    layout[xkey] = xcfg
    layout[ykey] = ycfg
    # grey plot-area frame
    shapes.append(dict(type="rect", xref=f"{xa} domain", yref=f"{ya} domain", x0=0, x1=1, y0=0, y1=1,
                       line=dict(color="#8c8c8c", width=1), layer="below"))
    # chart box
    bl, br, bt, bb = p["box"]
    shapes.append(dict(type="rect", xref="paper", yref="paper", x0=fx(bl), x1=fx(br), y0=fy(bb), y1=fy(bt),
                       line=dict(color="black", width=2), layer="above"))

# table rules
H_RULES = [8.5, 66.5, 406, 467, 807, 868, 1207, 1268]
for yy in H_RULES:
    shapes.append(dict(type="line", xref="paper", yref="paper", x0=0, x1=1, y0=fy(yy), y1=fy(yy),
                       line=dict(color="black", width=2.5)))
shapes.append(dict(type="line", xref="paper", yref="paper", x0=fx(584), x1=fx(584), y0=fy(1207), y1=fy(8),
                   line=dict(color="black", width=2)))
shapes.append(dict(type="line", xref="paper", yref="paper", x0=fx(9), x1=fx(9), y0=0, y1=1,
                   line=dict(color="black", width=2)))

HEAD_POS = [(296, 37), (873, 37), (296, 437), (873, 437), (296, 838), (873, 838), (583, 1240)]
annotations = []
for t, (hx, hy) in zip(TITLES, HEAD_POS):
    annotations.append(dict(text=t, x=fx(hx), y=fy(hy), xref="paper", yref="paper", showarrow=False,
                            xanchor="center", yanchor="middle",
                            font=dict(family="Liberation Serif, Times New Roman", size=31, color="black")))

fig.update_layout(width=W, height=H, margin=dict(l=0, r=0, t=0, b=0, autoexpand=False), autosize=False,
                  paper_bgcolor="white", plot_bgcolor="white", showlegend=False,
                  separators=", ", shapes=shapes, annotations=annotations, **layout)

fig.write_html("out.html")
